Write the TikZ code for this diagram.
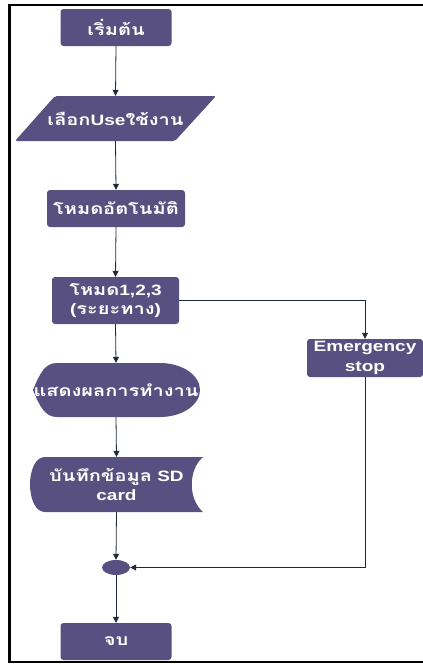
\documentclass[tikz,border=0pt]{standalone}
\usepackage{fontspec}
\usepackage{graphicx}
\setmainfont{Liberation Sans}
\newfontfamily\thai[Script=Thai,Scale=1.05]{Loma}
\usetikzlibrary{arrows.meta,shapes.geometric}
\definecolor{nodefill}{RGB}{88,80,128}
\definecolor{connc}{RGB}{30,42,56}
\newcommand\wx[1]{\scalebox{1.27}[1]{#1}}
\begin{document}
\begin{tikzpicture}[x=1pt,y=-1pt,
  lbl/.style={text=white, font=\bfseries\fontsize{15}{19.5}\selectfont, align=center, inner sep=0pt},
  box/.style={lbl, fill=nodefill, rounded corners=3pt},
  conn/.style={draw=connc, line width=0.8pt, -{Triangle[length=6pt,width=6pt]}}]
\useasboundingbox (0,0) rectangle (423,664);
\draw[line width=2.3pt] (423,5) -- (9.5,5) -- (9.5,662) -- (423,662);
% start
\node[box, minimum width=111pt, minimum height=37pt] (start) at (116,27.5) {\wx{\thai เริ่มต้น}};
% input parallelogram
\fill[nodefill, rounded corners=2pt] (55,96) -- (216,96) -- (175,141) -- (15,141) -- cycle;
\node[lbl, minimum width=160pt, minimum height=45pt] (inp) at (115.5,118.5) {\wx{{\thai เลือก}Use{\thai ใช้งาน}}};
% auto mode
\node[box, minimum width=138pt, minimum height=37pt] (auto) at (116,208.5) {\wx{\thai โหมดอัตโนมัติ}};
% mode 1,2,3
\node[box, minimum width=127pt, minimum height=47pt] (mode) at (115.5,300.5) {\wx{{\thai โหมด}1,2,3}\\\wx{({\thai ระยะทาง})}};
% emergency
\node[box, minimum width=116pt, minimum height=38pt] (emg) at (365,358) {\wx{Emergency}\\\wx{stop}};
% display shape
\fill[nodefill] (33,390) .. controls (40,373) and (45,363) .. (57,363) -- (160,363)
  .. controls (182,363) and (200,375) .. (200,390)
  .. controls (200,405) and (182,417) .. (160,417) -- (57,417)
  .. controls (45,417) and (40,407) .. (33,390) -- cycle;
\node[lbl, minimum width=167pt, minimum height=54pt] (disp) at (116,390) {\wx{\thai แสดงผลการทำงาน}};
% stored data shape
\fill[nodefill] (45,457) -- (203,457) .. controls (188,470) and (188,499) .. (203,512) -- (45,512)
  .. controls (35,512) and (30,498) .. (30,484.5) .. controls (30,471) and (35,457) .. (45,457) -- cycle;
\node[lbl, minimum width=173pt, minimum height=55pt] (sd) at (116.5,484.5) {\wx{{\thai บันทึกข้อมูล} SD}\\\wx{card}};
% junction
\node[ellipse, fill=nodefill, minimum width=28pt, minimum height=15pt, inner sep=0pt] (junc) at (116,567.5) {};
% end
\node[box, minimum width=111pt, minimum height=37pt] (stop) at (116,641.5) {\wx{\thai จบ}};
% connectors
\draw[conn] (start.south) -- (inp.north);
\draw[conn] (inp.south) -- (auto.north);
\draw[conn] (auto.south) -- (mode.north);
\draw[conn] (mode.south) -- (disp.north);
\draw[conn] (disp.south) -- (sd.north);
\draw[conn] (sd.south) -- (junc.north);
\draw[conn] (junc.south) -- (stop.north);
\draw[conn] (mode.east) -| (emg.north);
\draw[conn] (emg.south) |- (junc.east);
\end{tikzpicture}
\end{document}
